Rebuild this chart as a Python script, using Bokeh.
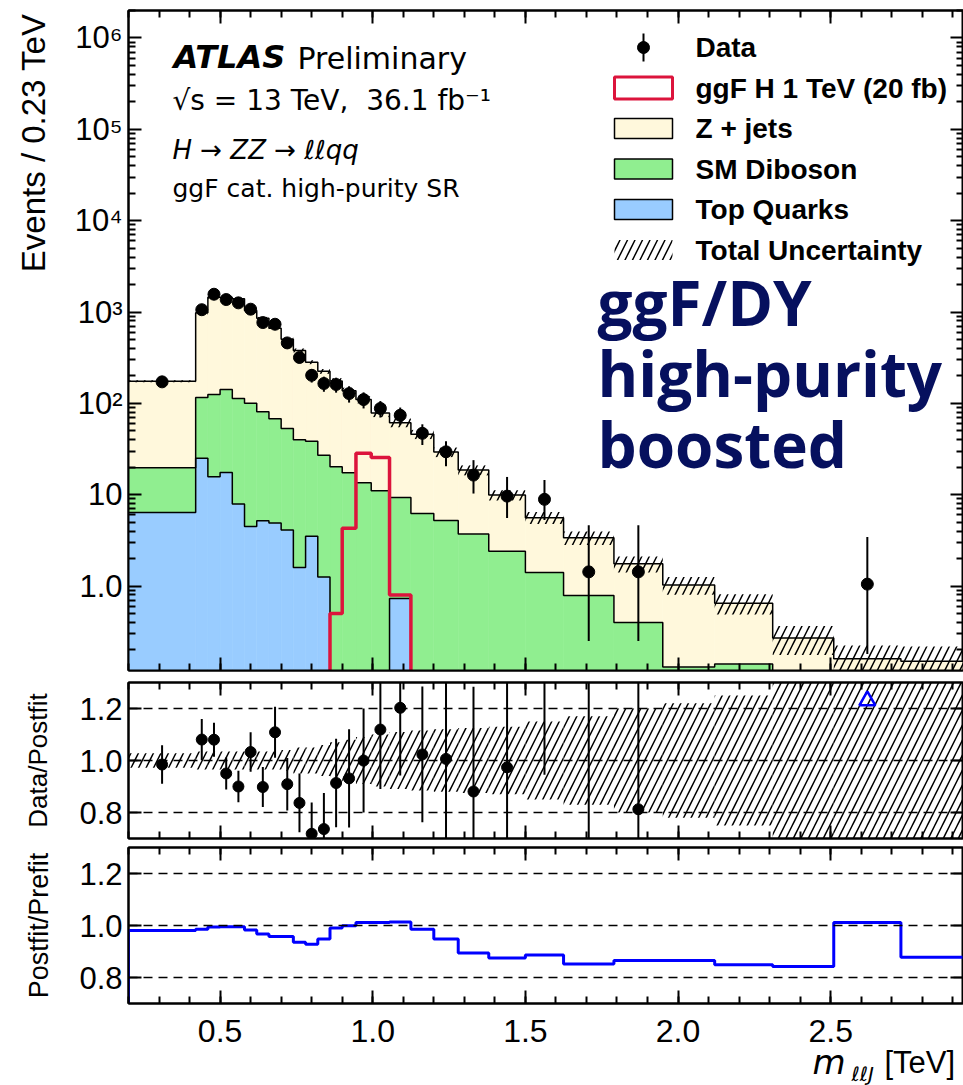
import numpy as np
from bokeh.plotting import figure
from bokeh.layouts import column, row
from bokeh.models import (Range1d, FixedTicker, LinearAxis, LogAxis, CustomJSTickFormatter,
                          Label, Span, ColumnDataSource)
from bokeh.embed import file_html
from bokeh.resources import INLINE

nan = float("nan")
NBSP = "\u00a0"

# ---------------------------------------------------------------- data
# m_llJ binning [TeV]
bin_edges = [0.20, 0.42, 0.46, 0.50, 0.54, 0.58, 0.62, 0.66, 0.70, 0.74, 0.78, 0.82,
             0.86, 0.90, 0.945, 0.995, 1.055, 1.125, 1.20, 1.28, 1.38, 1.50, 1.625,
             1.79, 1.95, 2.12, 2.31, 2.51, 2.73, 3.00]

# post-fit background yields, events / 0.23 TeV (stacked bottom to top)
top_quarks = [6.4, 25.0, 15.7, 17.5, 7.9, 4.5, 5.2, 4.9, 4.1, 1.6, 3.5, 1.26, 0.05, 0.05,
              0.04, 0.04, 0.73, 0.03, 0.02, 0.02, 0.01, 0.01, 0.01, 0.0, 0.0, 0.0, 0.0,
              0.0, 0.0]
sm_diboson = [13.3, 91.0, 109.3, 124.5, 105.1, 95.5, 75.8, 63.1, 48.9, 38.4, 35.1, 25.8,
              20.2, 17.4, 13.5, 11.0, 8.6, 6.2, 5.2, 3.7, 2.4, 1.4, 0.78, 0.40, 0.13,
              0.14, 0.08, 0.05, 0.04]
z_jets = [155.0, 865.0, 1325.0, 1300.0, 1287.0, 940.0, 773.0, 595.0, 452.0, 340.0, 244.0,
          197.0, 156.0, 120.0, 96.5, 67.6, 52.2, 39.7, 24.1, 14.9, 7.5, 4.2, 2.6, 1.36,
          0.90, 0.51, 0.19, 0.11, 0.11]
# relative total uncertainty on the post-fit background
total_rel_unc = [0.028, 0.035, 0.035, 0.035, 0.035, 0.035, 0.035, 0.035, 0.04, 0.05, 0.05,
                 0.06, 0.07, 0.08, 0.09, 0.10, 0.11, 0.115, 0.12, 0.125, 0.13, 0.15, 0.17,
                 0.20, 0.22, 0.25, 0.35, 0.40, 0.45]

# ggF H (1 TeV, 20 fb) signal
signal_ggf_1tev = [nan] * 11 + [0.01, 0.5, 4.3, 28.4, 25.5, 0.8] + [nan] * 12

# observed data and its error bars
data_yield = [172, 1060, 1566, 1370, 1260, 1074, 767, 735, 459, 318, 203, 165, 161, 128,
              110, 88, 74, 47, 29.5, 16.4, 9.65, 8.9, 1.43, 1.43, nan, nan, nan, 1.05, nan]
data_err_down = [13, 78, 95, 89, 85, 79, 66, 65, 51, 43, 34, 31, 30, 26, 22, 18, 16, 12, 9,
                 6.1, 4.1, 3.6, 1.18, 1.18, nan, nan, nan, 0.87, nan]
data_err_up = [13, 78, 95, 89, 85, 79, 66, 65, 51, 43, 34, 31, 30, 26, 22, 18, 16, 12, 9,
               7.5, 6.0, 5.6, 3.2, 3.2, nan, nan, nan, 2.4, nan]

# post-fit / pre-fit background ratio
postfit_over_prefit = [0.981, 0.986, 0.994, 0.995, 0.995, 0.983, 0.967, 0.958, 0.958, 0.936,
                       0.928, 0.948, 0.990, 0.999, 1.012, 1.012, 1.013, 0.986, 0.948, 0.894,
                       0.875, 0.887, 0.852, 0.865, 0.865, 0.849, 0.842, 1.012, 0.878]

# ticks and labels
main_y_ticks = [1, 10, 100, 1e3, 1e4, 1e5, 1e6]
main_y_labels = ["1.0", "10", "10²", "10³", "10⁴", "10⁵", "10⁶"]
mass_ticks = [0.5, 1.0, 1.5, 2.0, 2.5]
mass_labels = ["0.5", "1.0", "1.5", "2.0", "2.5"]
ratio_ticks = [0.8, 1.0, 1.2]
ratio_labels = ["0.8", "1.0", "1.2"]

legend_labels = ["Data", "ggF H 1 TeV (20 fb)", "Z + jets", "SM Diboson", "Top Quarks",
                 "Total Uncertainty"]

# ---------------------------------------------------------------- style / geometry
ZJETS_COLOR = "#FFF8DC"
DIBOSON_COLOR = "#90EE90"
TOP_COLOR = "#99CCFF"
SIGNAL_COLOR = "#DC143C"
NAVY = "#06105E"
TICK_FONT = "Liberation Sans"
HATCH = dict(hatch_pattern="/", hatch_color="black", hatch_weight=1.5, hatch_scale=15)
MID = 0.35                       # cap-height centre above the baseline, in font sizes

PAGE_W, PAGE_H = 963, 1085
STRIP_W = 60                     # left strip holding the vertical axis titles
W = PAGE_W - STRIP_W             # width of the plot column
FRAME_LEFT = 128                 # page x of the frames' left edge
X_RANGE = (0.2, 2.935)
MAIN_Y = (0.119, 2.0e6)
RATIO_Y = (0.7, 1.3)
FLOOR = 1e-3
ARROW_THRESHOLD = 3.0

MAIN_H, RATIO_H, PF_H = 675, 167, 163
BOTTOM_H = PAGE_H - MAIN_H - RATIO_H - PF_H
MAIN_TOP, MAIN_BOTTOM = 10, 670           # page y of each frame edge
RATIO_TOP, RATIO_BOTTOM = MAIN_H + 7, MAIN_H + RATIO_H - 4
PF_TOP, PF_BOTTOM = MAIN_H + RATIO_H + 5, MAIN_H + RATIO_H + PF_H - 2

X_SCALE = (PAGE_W - FRAME_LEFT) / (X_RANGE[1] - X_RANGE[0])


def page_x(X):
    """page pixel column -> m_llJ value"""
    return X_RANGE[0] + (X - FRAME_LEFT) / X_SCALE


def mass_to_page(m):
    return FRAME_LEFT + (m - X_RANGE[0]) * X_SCALE


def page_y_main(Y):
    lo, hi = np.log10(MAIN_Y[0]), np.log10(MAIN_Y[1])
    frac = (MAIN_BOTTOM - Y) / (MAIN_BOTTOM - MAIN_TOP)
    return float(10 ** (lo + frac * (hi - lo)))


edges = np.array(bin_edges)
left, right = edges[:-1], edges[1:]
centers = 0.5 * (left + right)

top_arr = np.array(top_quarks, dtype=float)
dib_cum = top_arr + np.array(sm_diboson)
tot_cum = dib_cum + np.array(z_jets)
unc = np.array(total_rel_unc)
data = np.array(data_yield, dtype=float)
d_lo = np.array(data_err_down, dtype=float)
d_hi = np.array(data_err_up, dtype=float)

x_minor = [round(0.2 + 0.1 * i, 2) for i in range(29)]
y_minor_log = [m * 10.0 ** k for k in range(-1, 7) for m in range(2, 10)]
ratio_minor = []

xr = Range1d(*X_RANGE)


def label_formatter(vals, labs):
    return CustomJSTickFormatter(args=dict(vals=vals, labs=labs), code="""
        for (let i = 0; i < vals.length; i++) {
            if (Math.abs(tick - vals[i]) <= 1e-6 * Math.max(1, Math.abs(vals[i]))) return labs[i];
        }
        return "";
    """)


def style_axis(ax, ticker, show_labels=False, formatter=None, size="31px", standoff=6):
    ax.ticker = ticker
    ax.major_tick_in = 13
    ax.major_tick_out = 0
    ax.minor_tick_in = 7
    ax.minor_tick_out = 0
    ax.major_tick_line_width = 2
    ax.minor_tick_line_width = 2
    ax.major_tick_line_color = "black"
    ax.minor_tick_line_color = "black"
    ax.axis_line_width = 2
    ax.axis_line_color = "black"
    if show_labels:
        ax.formatter = formatter
        ax.major_label_text_font = TICK_FONT
        ax.major_label_text_font_size = size
        ax.major_label_text_color = "black"
        ax.major_label_standoff = standoff
    else:
        # frame-only axis: ticks without numbers
        ax.formatter = CustomJSTickFormatter(code='return "";')
        ax.major_label_text_font_size = "1px"
        ax.major_label_standoff = 0


def make_fig(height, y_range, log=False, top=5, bottom=5):
    f = figure(width=W, height=height, x_range=xr, y_range=y_range,
               y_axis_type="log" if log else "linear",
               output_backend="svg", toolbar_location=None,
               min_border_left=FRAME_LEFT - STRIP_W, min_border_right=0,
               min_border_top=top, min_border_bottom=bottom,
               background_fill_color="white", border_fill_color="white",
               outline_line_color="black", outline_line_width=2)
    f.xgrid.visible = False
    f.ygrid.visible = False
    return f


def make_strip(width, height, x0, x1, y_top, y_bottom, border_left=0):
    """blank panel whose data coordinates are page pixels (for titles outside frames)"""
    f = figure(width=width, height=height, x_range=Range1d(x0, x1),
               y_range=Range1d(y_bottom, y_top), output_backend="svg",
               toolbar_location=None, x_axis_location=None, y_axis_location=None,
               min_border_left=border_left, min_border_right=0, min_border_top=0,
               min_border_bottom=0, outline_line_color=None,
               background_fill_color="white", border_fill_color="white")
    f.xgrid.visible = False
    f.ygrid.visible = False
    return f


def add_frame_axes(f, yticker, log=False):
    f.add_layout(LinearAxis(), "above")
    f.add_layout(LogAxis() if log else LinearAxis(), "right")
    style_axis(f.above[0], FixedTicker(ticks=mass_ticks, minor_ticks=x_minor))
    style_axis(f.right[0], yticker)


def add_text(f, x, y, text, font="Liberation Sans", size=27, style="normal",
             color="black", angle=0.0, align="left"):
    """(x, y) is the centre line of the capitals"""
    f.add_layout(Label(x=float(x), y=float(y), text=text, text_font=font,
                       text_font_size=f"{int(size)}px", text_font_style=style,
                       text_color=color, angle=float(angle), text_align=align,
                       text_baseline="middle"))


def step_xy(e, v):
    xs = np.repeat(e, 2)[1:-1]
    ys = np.repeat(v, 2)
    return xs, ys


# ---------------------------------------------------------------- main panel
p = make_fig(MAIN_H, Range1d(*MAIN_Y), log=True, top=MAIN_TOP, bottom=MAIN_H - MAIN_BOTTOM)
style_axis(p.xaxis[0], FixedTicker(ticks=mass_ticks, minor_ticks=x_minor))
style_axis(p.yaxis[0], FixedTicker(ticks=main_y_ticks, minor_ticks=y_minor_log),
           show_labels=True, formatter=label_formatter(main_y_ticks, main_y_labels),
           size="31px", standoff=6)
add_frame_axes(p, FixedTicker(ticks=main_y_ticks, minor_ticks=y_minor_log), log=True)

top_draw = np.maximum(top_arr, FLOOR)
dib_draw = np.maximum(dib_cum, FLOOR)
tot_draw = np.maximum(tot_cum, FLOOR)

p.quad(left=left, right=right, bottom=FLOOR, top=top_draw, fill_color=TOP_COLOR,
       line_color=TOP_COLOR, line_width=0.6)
p.quad(left=left, right=right, bottom=top_draw, top=dib_draw, fill_color=DIBOSON_COLOR,
       line_color=DIBOSON_COLOR, line_width=0.6)
p.quad(left=left, right=right, bottom=dib_draw, top=tot_draw, fill_color=ZJETS_COLOR,
       line_color=ZJETS_COLOR, line_width=0.6)

for level in (top_draw, dib_draw, tot_draw):
    sx, sy = step_xy(edges, level)
    p.line(sx, sy, line_color="black", line_width=1.5)

# total uncertainty band
p.quad(left=left, right=right, bottom=np.maximum(tot_cum * (1 - unc), FLOOR),
       top=tot_cum * (1 + unc), fill_alpha=0, line_alpha=0, **HATCH)

# signal histogram
sig = np.array(signal_ggf_1tev, dtype=float)
ok = np.where(np.isfinite(sig))[0]
sig_edges = edges[ok[0]: ok[-1] + 2]
sx, sy = step_xy(sig_edges, sig[ok])
sx = np.append(sx, sig_edges[-1])
sy = np.append(sy, FLOOR)
p.line(sx, sy, line_color=SIGNAL_COLOR, line_width=3.5)

# data
has = np.isfinite(data)
dsrc = ColumnDataSource(dict(x=centers[has], y=data[has], lo=data[has] - d_lo[has],
                             hi=data[has] + d_hi[has]))
p.segment(x0="x", y0="lo", x1="x", y1="hi", source=dsrc, line_color="black", line_width=2)
p.scatter(x="x", y="y", source=dsrc, size=12, fill_color="black", line_color="black")


def main_text(X, base_Y, text, size=27, **kw):
    """text on the main panel, given its page x and baseline page y"""
    add_text(p, page_x(X), page_y_main(base_Y - MID * size), text, size=size, **kw)


main_text(173, 68, "ATLAS", font="DejaVu Sans", size=32, style="bold italic")
main_text(297, 68, "Preliminary", font="DejaVu Sans", size=30)
main_text(172, 110, f"√s = 13 TeV,{NBSP}{NBSP}36.1 fb⁻¹", font="DejaVu Sans", size=28)
main_text(172, 159, "H → ZZ → ℓℓqq", font="DejaVu Sans", size=26, style="italic")
main_text(172, 197, "ggF cat. high-purity SR", font="DejaVu Sans", size=25)
for i, line in enumerate(["ggF/DY", "high-purity", "boosted"]):
    main_text(597, 323 + 71 * i, line, font="Open Sans", size=62, style="bold", color=NAVY)

# legend keys, placed in page pixels and mapped onto the panel scales
LEG_BOX_L, LEG_BOX_R, LEG_TEXT_X = 614, 672, 695
LEG_ROW0, LEG_PITCH = 47, 40.5
rows = [LEG_ROW0 + LEG_PITCH * i for i in range(len(legend_labels))]
bl, br = page_x(LEG_BOX_L), page_x(LEG_BOX_R)
bx = page_x(0.5 * (LEG_BOX_L + LEG_BOX_R))


def key_box(yc, half=10, **kw):
    p.quad(left=[bl], right=[br], bottom=[page_y_main(yc + half)],
           top=[page_y_main(yc - half)], level="overlay", **kw)


p.segment(x0=[bx], x1=[bx], y0=[page_y_main(rows[0] + 14)], y1=[page_y_main(rows[0] - 14)],
          line_color="black", line_width=2, level="overlay")
p.scatter(x=[bx], y=[page_y_main(rows[0])], size=12, fill_color="black", line_color="black",
          level="overlay")
key_box(rows[1], half=11, fill_color="white", line_color=SIGNAL_COLOR, line_width=3)
key_box(rows[2], fill_color=ZJETS_COLOR, line_color="black", line_width=1.5)
key_box(rows[3], fill_color=DIBOSON_COLOR, line_color="black", line_width=1.5)
key_box(rows[4], fill_color=TOP_COLOR, line_color="black", line_width=1.5)
key_box(rows[5], fill_alpha=0, line_alpha=0, **HATCH)
for yc, text in zip(rows, legend_labels):
    main_text(LEG_TEXT_X, yc + 10, text, size=28, style="bold")

# ---------------------------------------------------------------- data / post-fit panel
r = make_fig(RATIO_H, Range1d(*RATIO_Y), top=RATIO_TOP - MAIN_H,
             bottom=MAIN_H + RATIO_H - RATIO_BOTTOM)
style_axis(r.xaxis[0], FixedTicker(ticks=mass_ticks, minor_ticks=x_minor))
style_axis(r.yaxis[0], FixedTicker(ticks=ratio_ticks, minor_ticks=ratio_minor),
           show_labels=True, formatter=label_formatter(ratio_ticks, ratio_labels),
           size="31px", standoff=6)
add_frame_axes(r, FixedTicker(ticks=ratio_ticks, minor_ticks=ratio_minor))
for v in ratio_ticks:
    r.add_layout(Span(location=v, dimension="width", line_color="black", line_width=1.5,
                      line_dash="9 6"))
r.quad(left=left, right=right, bottom=1 - unc, top=1 + unc, fill_alpha=0, line_alpha=0,
       **HATCH)

ratio = data / tot_cum
in_view = has & (ratio <= ARROW_THRESHOLD)
rsrc = ColumnDataSource(dict(x=centers[in_view], y=ratio[in_view],
                             lo=(data[in_view] - d_lo[in_view]) / tot_cum[in_view],
                             hi=(data[in_view] + d_hi[in_view]) / tot_cum[in_view]))
r.segment(x0="x", y0="lo", x1="x", y1="hi", source=rsrc, line_color="black", line_width=2)
r.scatter(x="x", y="y", source=rsrc, size=11, fill_color="black", line_color="black")
over = has & (ratio > ARROW_THRESHOLD)
r.scatter(x=centers[over], y=[RATIO_Y[1] - 0.07] * int(over.sum()), marker="triangle",
          size=16, fill_alpha=0, line_color="#0000FF", line_width=2.5)

# ---------------------------------------------------------------- post-fit / pre-fit panel
q = make_fig(PF_H, Range1d(*RATIO_Y), top=PF_TOP - MAIN_H - RATIO_H,
             bottom=MAIN_H + RATIO_H + PF_H - PF_BOTTOM)
style_axis(q.xaxis[0], FixedTicker(ticks=mass_ticks, minor_ticks=x_minor))
style_axis(q.yaxis[0], FixedTicker(ticks=ratio_ticks, minor_ticks=ratio_minor),
           show_labels=True, formatter=label_formatter(ratio_ticks, ratio_labels),
           size="31px", standoff=6)
add_frame_axes(q, FixedTicker(ticks=ratio_ticks, minor_ticks=ratio_minor))
for v in ratio_ticks:
    q.add_layout(Span(location=v, dimension="width", line_color="black", line_width=1.5,
                      line_dash="9 6"))
px, py = step_xy(edges, np.array(postfit_over_prefit))
px = np.concatenate([[edges[0]], px, [edges[-1]]])
py = np.concatenate([[0.0], py, [0.0]])
q.line(px, py, line_color="#0000FF", line_width=3)

# ---------------------------------------------------------------- titles outside the frames
ls = make_strip(STRIP_W, PAGE_H, 0, STRIP_W, 0, PAGE_H)
add_text(ls, 45 - MID * 33, 13, "Events / 0.23 TeV", size=33, angle=np.pi / 2, align="right")
add_text(ls, 47 - MID * 26, 0.5 * (RATIO_TOP + RATIO_BOTTOM), "Data/Postfit", size=26,
         angle=np.pi / 2, align="center")
add_text(ls, 48 - MID * 27, 0.5 * (PF_TOP + PF_BOTTOM), "Postfit/Prefit", size=27,
         angle=np.pi / 2, align="center")

# bottom strip: frame spans the same page columns as the panels above it
bs = make_strip(W, BOTTOM_H, FRAME_LEFT, PAGE_W, PAGE_H - BOTTOM_H, PAGE_H,
                border_left=FRAME_LEFT - STRIP_W)


def bottom_text(X, base_Y, text, size=32, **kw):
    add_text(bs, X, base_Y - MID * size, text, size=size, **kw)


for t, lab in zip(mass_ticks, mass_labels):
    bottom_text(mass_to_page(t), 1042, lab, size=32, align="center")
bottom_text(812, 1073, "m", font="DejaVu Sans", size=34, style="italic")
bottom_text(851, 1080, "ℓℓJ", font="DejaVu Sans", size=20, style="italic")
bottom_text(884, 1073, "[TeV]", size=31)

layout = row(ls, column(p, r, q, bs, spacing=0), spacing=0)
open("out.html", "w").write(file_html(layout, INLINE))
